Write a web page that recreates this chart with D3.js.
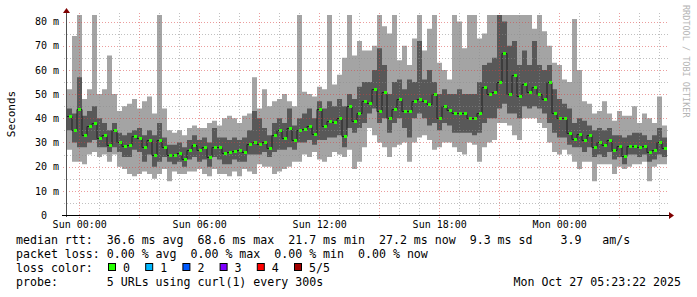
<!DOCTYPE html>
<html>
<head>
<meta charset="utf-8">
<script src="https://cdn.jsdelivr.net/npm/d3@7"></script>
<style>
body{margin:0;background:#fff}
svg{display:block}
text{font-family:"DejaVu Sans Mono",monospace}
</style>
</head>
<body>
<svg id="chart" width="697" height="297"></svg>
<script>
// 30h of curl probe, one value every 15 min (5 pings sorted: lo1 <= lo2 <= med <= hi2 <= hi1)
var med = [41,35,44,33,37,38,32,33,29,35,30,28.5,29,32.5,32,28,31,25,31,28,
  25,25,25.5,23,27,29,27,28,24,28,28,25.5,26,26.5,27,26,29.5,30,29.5,30,
  27.5,33,35,32,36,31,35,35.5,37,33.5,44,37,39,38.5,40,32.5,45,39,42,47,
  46.5,52,43,51,40,44,48,43,43,47,48,47,46,50,40,45,43.5,42,42,42,
  40,40,42,53,50,51,55,67,50,58,49,54,51,53,50,48,55,42,40,40,
  34,31.5,33.5,31,33,28,30,29,31,27,28.5,24.5,28.5,28.7,28,28.5,26,27,30,27.5];
var lo1 = [27,22,22,21,25,26,24,25,22,25,20,19,17,16,17,18,17,15,17,19,
  14,18,17,17,18,18,19,17,16,19,17,17,16,18,16,19,18,17,21,20,
  20,17,18,19,20,22,22,25,24,26,23,22,24,26,25,24,27,19,22,28,
  36,33,30,28,24,28,29,30,22,30,32,33,31,27,28,30,30,28,26,25,
  30,29,22,28,30,31,38,38,37,33,31,40,40,40,38,36,30,26,25,27,
  25,22,19,22,22,14,21,21,21,17,20,19,20,21,21,22,14,20,21,21];
var lo2 = [35,30,28,28,30,31,28,28,26,28,26,24,24,27,26,22,25,20,22,24,
  22,21,22,20,23,24,22,23,20,24,23,21,21,23,22,22,25,25,25,26,
  24,26,27,27,28,27,30,30,31,29,31,31,32,32,33,28,36,34,36,38,
  42,44,38,40,34,38,40,36,32,40,42,40,37,38,35,38,37,34,34,34,
  34,33,34,38,40,40,44,46,42,42,40,45,44,45,44,42,38,34,32,32,
  29,28,28,26,28,24,25,24,26,23,24,21,25,25,24,25,22,23,25,24];
var hi2 = [44,42,57,41,43,45,40,38,35,38,34,33,34,35,36,33,35,33,38,32,
  29,29,30,28,31,33,31,32,30,36,32,32,31,32,31,32,35,43,40,36,
  33,38,40,38,44,37,40,42,44,40,47,44,47,45,48,45,50,48,53,55,
  55,60,69,62,50,55,56,52,56,55,72,56,60,55,50,52,50,50,52,50,
  50,50,55,62,63,65,83,80,70,72,62,68,62,72,62,60,62,52,48,46,
  44,38,40,39,37,35,36,35,36,33,33,32,33,34,34,33,31,33,36,32];
var hi1 = [52,74,83,48,52,83,50,52,66,50,43,45,46,48,44,47,49,42,83,44,
  35,34,35,33,36,37,36,36,38,39,37,40,41,40,38,41,42,57,44,52,
  45,47,48,50,47,45,83,51,50,49,53,52,83,54,58,65,83,66,72,68,
  68,70,83,78,75,83,64,70,62,73,83,68,77,83,63,60,56,83,80,69,
  83,83,73,75,83,83,83,83,83,83,83,83,83,77,83,76,70,63,62,56,
  55,81,60,47,46,42,43,47,42,39,43,41,41,45,38,42,40,38,49,37];

var yTicks = [0,10,20,30,40,50,60,70,80];
var lossLabels = ["0","1","2","3","4","5/5"];
var lossColors = ["#26ff00","#00b8ff","#0059ff","#7e00ff","#ff0000","#a10000"];
var legendLines = [
  "median rtt:  36.6 ms avg  68.6 ms max  21.7 ms min  27.2 ms now  9.3 ms sd    3.9   am/s",
  "packet loss: 0.00 % avg  0.00 % max  0.00 % min  0.00 % now",
  "loss color:",
  "probe:       5 URLs using curl(1) every 300s"
];
var stamp = "Mon Oct 27 05:23:22 2025";

var svg = d3.select("#chart");
svg.append("rect").attr("width",697).attr("height",297).attr("fill","#fff");

var t0 = Date.UTC(2025,9,25,23,23,22), t1 = Date.UTC(2025,9,27,5,23,22);
var x = d3.scaleUtc().domain([t0,t1]).range([67,667]);
var y = d3.scaleLinear().domain([0,82.7]).range([215,15]);

var stepMs = 15*60*1000;
var rows = med.map(function(m,i){
  return {t:t0+i*stepMs, med:m, lo1:lo1[i], lo2:lo2[i], hi2:hi2[i], hi1:hi1[i]};
});
var rowsEnd = rows.concat([Object.assign({}, rows[rows.length-1], {t:t1})]);

svg.append("clipPath").attr("id","plot").append("rect")
  .attr("x",67).attr("y",15).attr("width",600).attr("height",200);

var g = svg.append("g").attr("clip-path","url(#plot)");

// smoke
g.append("path").datum(rowsEnd)
  .attr("fill","#a4a4a4")
  .attr("d", d3.area().curve(d3.curveStepAfter)
    .x(function(d){return x(d.t);}).y0(function(d){return y(d.lo1);}).y1(function(d){return y(d.hi1);}));
g.append("path").datum(rowsEnd)
  .attr("fill","#585858")
  .attr("d", d3.area().curve(d3.curveStepAfter)
    .x(function(d){return x(d.t);}).y0(function(d){return y(d.lo2);}).y1(function(d){return y(d.hi2);}));

// median
g.append("path").datum(rowsEnd)
  .attr("fill","none").attr("stroke","#202020").attr("stroke-width",1)
  .attr("d", d3.line().curve(d3.curveStepAfter)
    .x(function(d){return x(d.t);}).y(function(d){return Math.round(y(d.med))+0.5;}));
g.selectAll(".me").data(rows).enter().append("rect")
  .attr("class","me")
  .attr("x",function(d){return Math.round(x(d.t+stepMs/2))-1;})
  .attr("y",function(d){return Math.round(y(d.med))-1;})
  .attr("width",3).attr("height",3)
  .attr("fill",lossColors[0]);

// grid (on top, dotted)
var minorH = d3.utcHour.range(t0,t1).filter(function(d){return d.getUTCHours()%3!=0;});
var majorH = d3.utcHour.every(3).range(t0,t1);
var grid = svg.append("g");
grid.selectAll(".vmin").data(minorH).enter().append("line")
  .attr("x1",function(d){return Math.round(x(d))+0.5;}).attr("x2",function(d){return Math.round(x(d))+0.5;})
  .attr("y1",13).attr("y2",217)
  .attr("stroke","rgba(140,140,140,0.55)").attr("stroke-dasharray","1,2");
grid.selectAll(".hmin").data([5,15,25,35,45,55,65,75]).enter().append("line")
  .attr("x1",64).attr("x2",669)
  .attr("y1",function(d){return Math.round(y(d))+0.5;}).attr("y2",function(d){return Math.round(y(d))+0.5;})
  .attr("stroke","rgba(140,140,140,0.55)").attr("stroke-dasharray","1,2");
grid.selectAll(".vmaj").data(majorH).enter().append("line")
  .attr("x1",function(d){return Math.round(x(d))+0.5;}).attr("x2",function(d){return Math.round(x(d))+0.5;})
  .attr("y1",13).attr("y2",218)
  .attr("stroke","rgba(215,60,60,0.5)").attr("stroke-dasharray","1,2");
grid.selectAll(".hmaj").data(yTicks.slice(1)).enter().append("line")
  .attr("x1",63).attr("x2",669)
  .attr("y1",function(d){return Math.round(y(d))+0.5;}).attr("y2",function(d){return Math.round(y(d))+0.5;})
  .attr("stroke","rgba(215,60,60,0.5)").attr("stroke-dasharray","1,2");

// axes lines + arrows
svg.append("line").attr("x1",66.5).attr("x2",66.5).attr("y1",217).attr("y2",12)
  .attr("stroke","#505050");
svg.append("line").attr("x1",62).attr("x2",670).attr("y1",215.5).attr("y2",215.5)
  .attr("stroke","#000");
svg.append("path").attr("d","M669,212L674,215.5L669,219Z").attr("fill","#7f0000");
svg.append("path").attr("d","M63,13L66.5,8L70,13Z").attr("fill","#7f0000");

// axis labels
var yAxis = d3.axisLeft(y).tickValues(yTicks).tickSize(0).tickPadding(7)
  .tickFormat(function(v){return v===0 ? "0\u00a0\u00a0" : v+" m";});
svg.append("g").attr("transform","translate(66,0)").call(yAxis)
  .call(function(s){s.select(".domain").remove();})
  .selectAll("text").attr("font-size","10px").attr("font-family","DejaVu Sans Mono").attr("fill","#000");

var xAxis = d3.axisBottom(x).ticks(d3.utcHour.every(6)).tickSize(0).tickPadding(6)
  .tickFormat(d3.utcFormat("%a %H:%M"));
svg.append("g").attr("transform","translate(0,215)").call(xAxis)
  .call(function(s){s.select(".domain").remove();})
  .selectAll("text").attr("font-size","10px").attr("font-family","DejaVu Sans Mono").attr("fill","#000");

svg.append("text").attr("transform","translate(15,114) rotate(-90)")
  .attr("text-anchor","middle").attr("font-size","11px").text("Seconds");

svg.append("text").attr("transform","translate(683,5) rotate(90)")
  .attr("font-size","8.5px").attr("fill","#b4b4b4").text("RRDTOOL / TOBI OETIKER");

// legend
var lg = svg.append("g").attr("font-size","11.6px").style("white-space","pre");
lg.selectAll(".ln").data(legendLines).enter().append("text")
  .attr("x",16).attr("y",function(d,i){return 244+i*14;})
  .attr("xml:space","preserve").text(function(d){return d;});
var lb = lg.selectAll(".lb").data(lossLabels).enter().append("g")
  .attr("transform",function(d,i){return "translate("+(108+i*37.2)+",263)";});
lb.append("rect").attr("x",0.5).attr("y",0.5).attr("width",7).attr("height",7)
  .attr("fill",function(d,i){return lossColors[i];}).attr("stroke","#000");
lb.append("text").attr("x",15).attr("y",8.5).text(function(d){return d;});
lg.append("text").attr("x",681).attr("y",244+3*14).attr("text-anchor","end").text(stamp);
</script>
</body>
</html>
